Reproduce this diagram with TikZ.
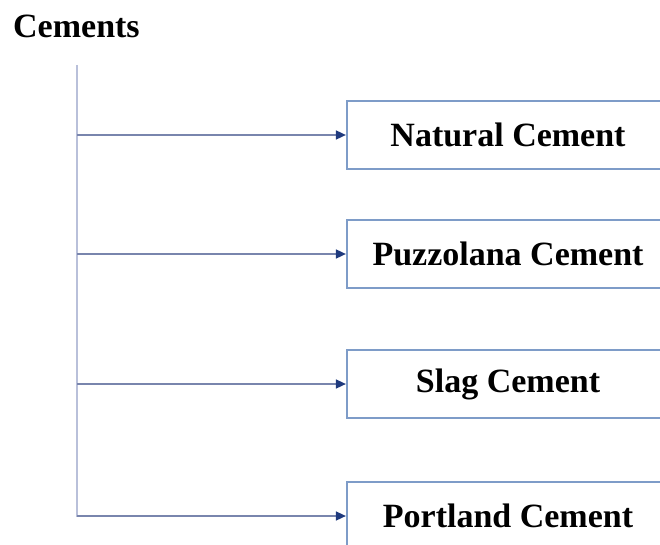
\documentclass[tikz,border=0pt]{standalone}
\usepackage{fontspec}
\setmainfont{Liberation Serif}
\usetikzlibrary{arrows.meta}
\definecolor{boxline}{HTML}{7E9CC8}
\definecolor{trunkline}{HTML}{B9C0DA}
\definecolor{branchline}{HTML}{7985AD}
\definecolor{tipcol}{HTML}{1F3A7E}
\begin{document}
\begin{tikzpicture}[x=1pt,y=-1pt,
    kind/.style={draw=boxline,line width=2.2pt,minimum width=322pt,minimum height=68pt,inner sep=0pt,font=\fontsize{34}{40}\selectfont\bfseries},
    branch/.style={draw=branchline,line width=1.6pt,-{Triangle[length=10pt,width=9pt,fill=tipcol,color=tipcol]}}]
    \useasboundingbox (0,0) rectangle (660,545);
    \node[anchor=base west,inner sep=0pt,font=\fontsize{34}{40}\selectfont\bfseries] (cements) at (13,38) {Cements};
    \coordinate (trunktop) at (77,65);
    \coordinate (trunkbot) at (77,517);
    \draw[trunkline,line width=2.8pt] (trunktop) -- (trunkbot);
    \node[kind] (natural) at (508,135) {Natural Cement};
    \node[kind] (puzzolana) at (508,254) {Puzzolana Cement};
    \node[kind] (slag) at (508,384) {Slag Cement};
    \node[kind] (portland) at (508,516) {Portland Cement};
    \draw[branch] (natural.west -| trunktop) -- (natural.west);
    \draw[branch] (puzzolana.west -| trunktop) -- (puzzolana.west);
    \draw[branch] (slag.west -| trunktop) -- (slag.west);
    \draw[branch] (portland.west -| trunktop) -- (portland.west);
  \end{tikzpicture}
\end{document}
